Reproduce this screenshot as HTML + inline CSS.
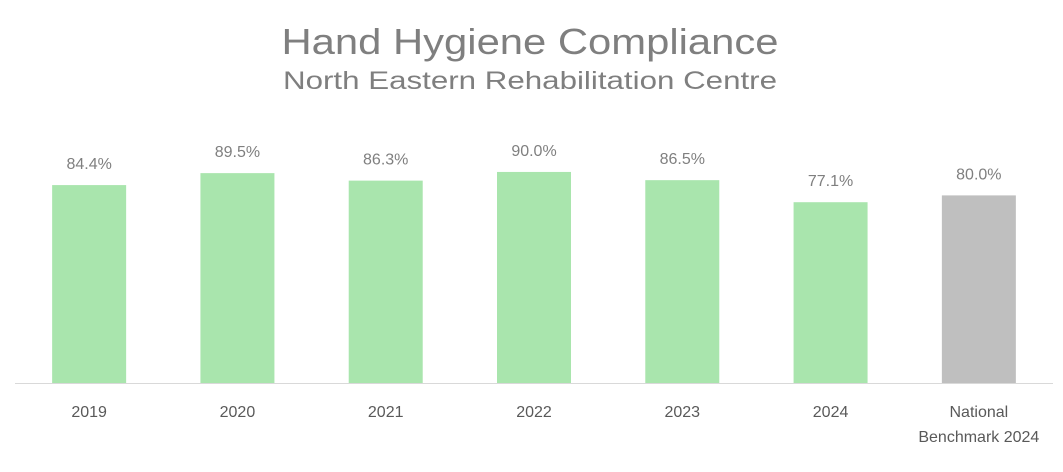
<!DOCTYPE html>
<html><head><meta charset="utf-8"><style>
html,body{margin:0;padding:0;background:#fff;}
svg{display:block;font-family:"Liberation Sans",sans-serif;}
</style></head><body>
<svg id="chart" width="1063" height="472" viewBox="0 0 1063 472">
<text x="530" y="54" text-anchor="middle" font-size="36" fill="#7f7f7f" textLength="497" lengthAdjust="spacingAndGlyphs">Hand Hygiene Compliance</text>
<text x="530" y="89" text-anchor="middle" font-size="25" fill="#7f7f7f" textLength="494" lengthAdjust="spacingAndGlyphs">North Eastern Rehabilitation Centre</text>
<g id="bars"></g>
<line x1="15" y1="383.5" x2="1053" y2="383.5" stroke="#d9d9d9" stroke-width="1"/>
</svg>
<script>
const categories = ["2019","2020","2021","2022","2023","2024","National|Benchmark 2024"];
const values = [84.4, 89.5, 86.3, 90.0, 86.5, 77.1, 80.0];
const valueLabels = ["84.4%","89.5%","86.3%","90.0%","86.5%","77.1%","80.0%"];
const colors = ["#a9e5ad","#a9e5ad","#a9e5ad","#a9e5ad","#a9e5ad","#a9e5ad","#bfbfbf"];
const ns="http://www.w3.org/2000/svg";
const left=15, right=1053, base=383, pxPerUnit=2.345;
const band=(right-left)/categories.length, barW=74;
const xC=i=>left+band*(i+0.5);
const y=v=>base-v*pxPerUnit;
const g=document.getElementById('bars');
categories.forEach((c,i)=>{
  const r=document.createElementNS(ns,'rect');
  
  
  r.setAttribute('x',xC(i)-barW/2);r.setAttribute('y',y(values[i]));
  r.setAttribute('width',barW);r.setAttribute('height',base-y(values[i]));
  r.setAttribute('fill',colors[i]);g.appendChild(r);
  const t=document.createElementNS(ns,'text');
  
  
  t.setAttribute('x',xC(i));t.setAttribute('y',y(values[i])-16);
  t.setAttribute('text-anchor','middle');t.setAttribute('font-size','16');t.setAttribute('fill','#7f7f7f');
  t.textContent=valueLabels[i];g.appendChild(t);
  c.split('|').forEach((line,k)=>{
    const l=document.createElementNS(ns,'text');
    
    
    l.setAttribute('x',xC(i));l.setAttribute('y',417+k*25);
    l.setAttribute('text-anchor','middle');l.setAttribute('font-size','16');l.setAttribute('fill','#595959');
    l.textContent=line;g.appendChild(l);
  });
});
</script>
</body></html>
